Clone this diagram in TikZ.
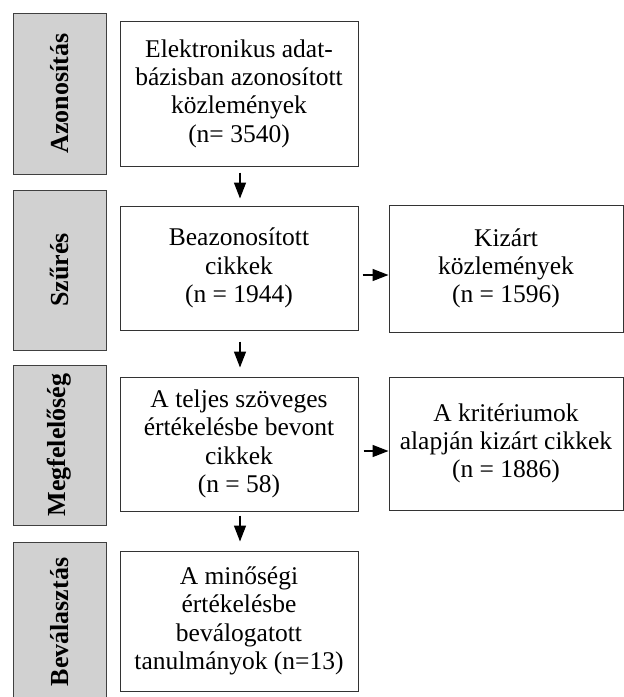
\documentclass[tikz,border=0pt]{standalone}
\usepackage{fontspec}
\setmainfont{Liberation Serif}
\usepackage{tikz}
\usetikzlibrary{arrows.meta}

\begin{document}
\begin{tikzpicture}[x=1pt, y=-1pt,
        phase/.style={draw=black!75, fill=black!18, line width=1pt, inner sep=0pt,
            minimum width=160pt, minimum height=93pt, rotate=90,
            font=\fontsize{26}{30}\selectfont\bfseries},
        box/.style={draw=black!80, line width=1pt, inner sep=0pt, align=center,
            font=\fontsize{25.5}{28.3}\selectfont},
        arr/.style={line width=1.5pt, -{Triangle[length=16pt, width=12pt]}}]
            % \draw[help lines] (0, 0) grid[step=50] (624, 697);
            \useasboundingbox (0, 0) rectangle (624, 697);
            \node[phase, minimum width=161pt] (ident) at (59.5, 93.5) {Azonosítás};
            \node[phase] (screen) at (59.5, 270) {Szűrés};
            \node[phase] (elig) at (59.5, 445) {Megfelelőség};
            \node[phase] (incl) at (59.5, 622) {Beválasztás};
            \node[box, minimum width=238pt, minimum height=145pt] (records) at (239, 93.5)
                {Elektronikus adat-\\bázisban azonosított\\közlemények\\(n= 3540)};
            \node[box, minimum width=238pt, minimum height=124pt] (screened) at (239, 268)
                {Beazonosított\\cikkek\\(n = 1944)};
            \node[box, minimum width=238pt, minimum height=134pt] (fulltext) at (239, 444)
                {A teljes szöveges\\értékelésbe bevont\\cikkek\\(n = 58)};
            \node[box, minimum width=238pt, minimum height=140pt] (included) at (239, 621)
                {A minőségi\\értékelésbe\\beválogatott\\tanulmányok (n=13)};
            \node[box, minimum width=234pt, minimum height=127pt] (excluded) at (506, 268.5)
                {Kizárt\\közlemények\\(n = 1596)};
            \node[box, minimum width=234pt, minimum height=133pt] (rejected) at (506, 443.5)
                {A kritériumok\\alapján kizárt cikkek\\(n = 1886)};
            \draw[arr] ([xshift=1, yshift=-6]records.south) -- ([xshift=1, yshift=7]screened.north);
            \draw[arr] ([xshift=1, yshift=-11]screened.south) -- ([xshift=1, yshift=9]fulltext.north);
            \draw[arr] ([xshift=1, yshift=-4]fulltext.south) -- ([xshift=1, yshift=9]included.north);
            \draw[arr] ([xshift=4, yshift=-7]screened.east) -- ([yshift=-6.5]excluded.west);
            \draw[arr] ([xshift=5, yshift=-7]fulltext.east) -- ([yshift=-7.5]rejected.west);
        \end{tikzpicture}
\end{document}
